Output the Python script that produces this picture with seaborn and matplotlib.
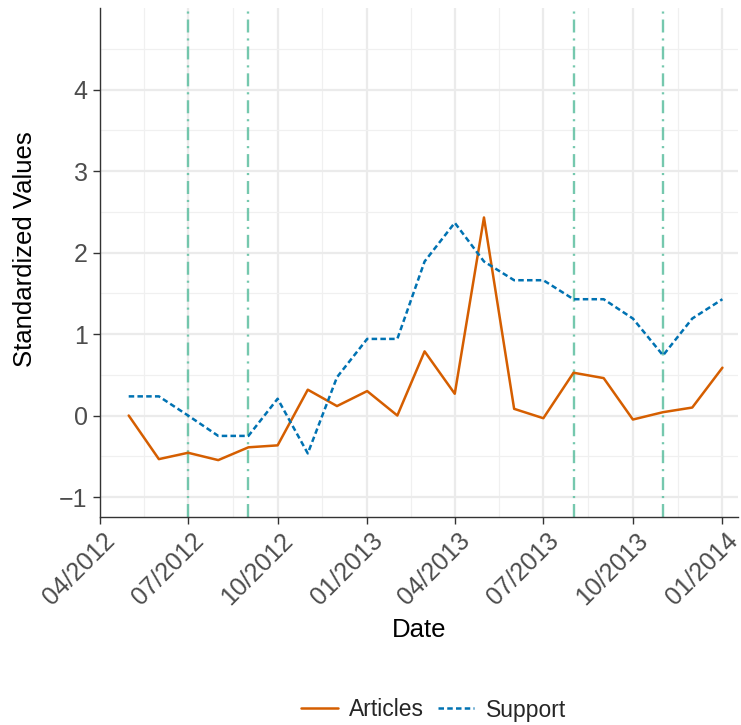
import matplotlib
matplotlib.use("Agg")
import matplotlib.pyplot as plt
import matplotlib.dates as mdates
import matplotlib.ticker as mticker
import matplotlib.transforms as mtransforms
from matplotlib.lines import Line2D
import seaborn as sns
import pandas as pd
import numpy as np

# ---- data ----
months = pd.date_range("2012-05-01", "2014-01-01", freq="MS")
articles = [0.00, -0.535, -0.457, -0.547, -0.39, -0.366, 0.317, 0.116, 0.30, 0.0,
            0.787, 0.267, 2.43, 0.082, -0.033, 0.525, 0.459, -0.049, 0.041, 0.098, 0.587]
support = [0.235, 0.235, 0.0, -0.25, -0.25, 0.206, -0.465, 0.47, 0.94, 0.94,
           1.89, 2.365, 1.89, 1.66, 1.66, 1.427, 1.427, 1.19, 0.738, 1.19, 1.427]
event_dates = pd.to_datetime(["2012-07-01", "2012-09-01", "2013-08-01", "2013-11-01"])
tick_dates = pd.date_range("2012-04-01", "2014-01-01", freq="3MS")
y_ticks = [-1, 0, 1, 2, 3, 4]
series_names = ["Articles", "Support"]

df = pd.DataFrame({
    "Date": list(months) * 2,
    "Value": articles + support,
    "Series": ["Articles"] * len(months) + ["Support"] * len(months),
})

sns.set_theme(style="white")
plt.rcParams["font.family"] = ["Liberation Sans", "DejaVu Sans"]

fig = plt.figure(figsize=(7.41, 7.25), dpi=100)
ax = fig.add_axes([99.5 / 741, 1 - 517 / 725, (738 - 99.5) / 741, (517 - 8) / 725])

colors = {"Articles": "#D55E00", "Support": "#0072B2"}
styles = {"Articles": "-", "Support": (0, (2.2, 1.3))}

# event lines
for d in event_dates:
    ax.axvline(d, color="#66C2A5", alpha=0.9, lw=1.7, ls=(0, (5.5, 2.5, 0.9, 2.5)), zorder=2)

for name in series_names:
    sub = df[df["Series"] == name]
    sns.lineplot(data=sub, x="Date", y="Value", ax=ax, color=colors[name],
                 linestyle=styles[name], linewidth=1.8, legend=False, zorder=3)

ax.set_xlim(pd.Timestamp("2012-04-01"), pd.Timestamp("2014-01-17"))
ax.set_ylim(-1.245, 5.0)

ax.set_xticks(tick_dates)
ax.xaxis.set_major_formatter(mdates.DateFormatter("%m/%Y"))
tnum = mdates.date2num(tick_dates)
ax.xaxis.set_minor_locator(mticker.FixedLocator((tnum[:-1] + tnum[1:]) / 2))
ax.set_yticks(y_ticks)
ax.yaxis.set_minor_locator(mticker.FixedLocator(np.arange(-0.5, 5.0, 1.0)))

ax.grid(which="major", color="#EBEBEB", lw=1.6, zorder=0)
ax.grid(which="minor", color="#F0F0F0", lw=0.9, zorder=0)
ax.set_axisbelow(True)

for s in ["top", "right"]:
    ax.spines[s].set_visible(False)
for s in ["left", "bottom"]:
    ax.spines[s].set_color("#333333")
    ax.spines[s].set_linewidth(1.0)

ax.tick_params(which="major", length=5, width=1.0, color="#333333",
               labelcolor="#4D4D4D", labelsize=18, pad=3.5, bottom=True, left=True)
ax.tick_params(which="minor", length=0)

offset = mtransforms.ScaledTranslation(3 / 100, 0, fig.dpi_scale_trans)
for lab in ax.get_xticklabels():
    lab.set_rotation(45)
    lab.set_ha("right")
    lab.set_va("top")
    lab.set_rotation_mode("anchor")
    lab.set_transform(lab.get_transform() + offset)

ax.set_xlabel("Date", fontsize=18.5, color="black")
ax.set_ylabel("Standardized Values", fontsize=18.5, color="black")
ax.xaxis.set_label_coords(0.5, (517 - 630) / 509)
ax.xaxis.label.set_va("center")
ax.yaxis.set_label_coords((25 - 99.5) / 638.5, 0.527)
ax.yaxis.label.set_va("center")
ax.yaxis.label.set_ha("center")

handles = [Line2D([], [], color=colors[n], ls=styles[n], lw=1.8) for n in series_names]
fig.legend(handles, series_names, loc="center", bbox_to_anchor=(0.585, 1 - 710 / 725),
           ncol=2, frameon=False, fontsize=16.5, handlelength=1.6,
           columnspacing=0.6, handletextpad=0.5)

fig.savefig("out.png", dpi=100)
